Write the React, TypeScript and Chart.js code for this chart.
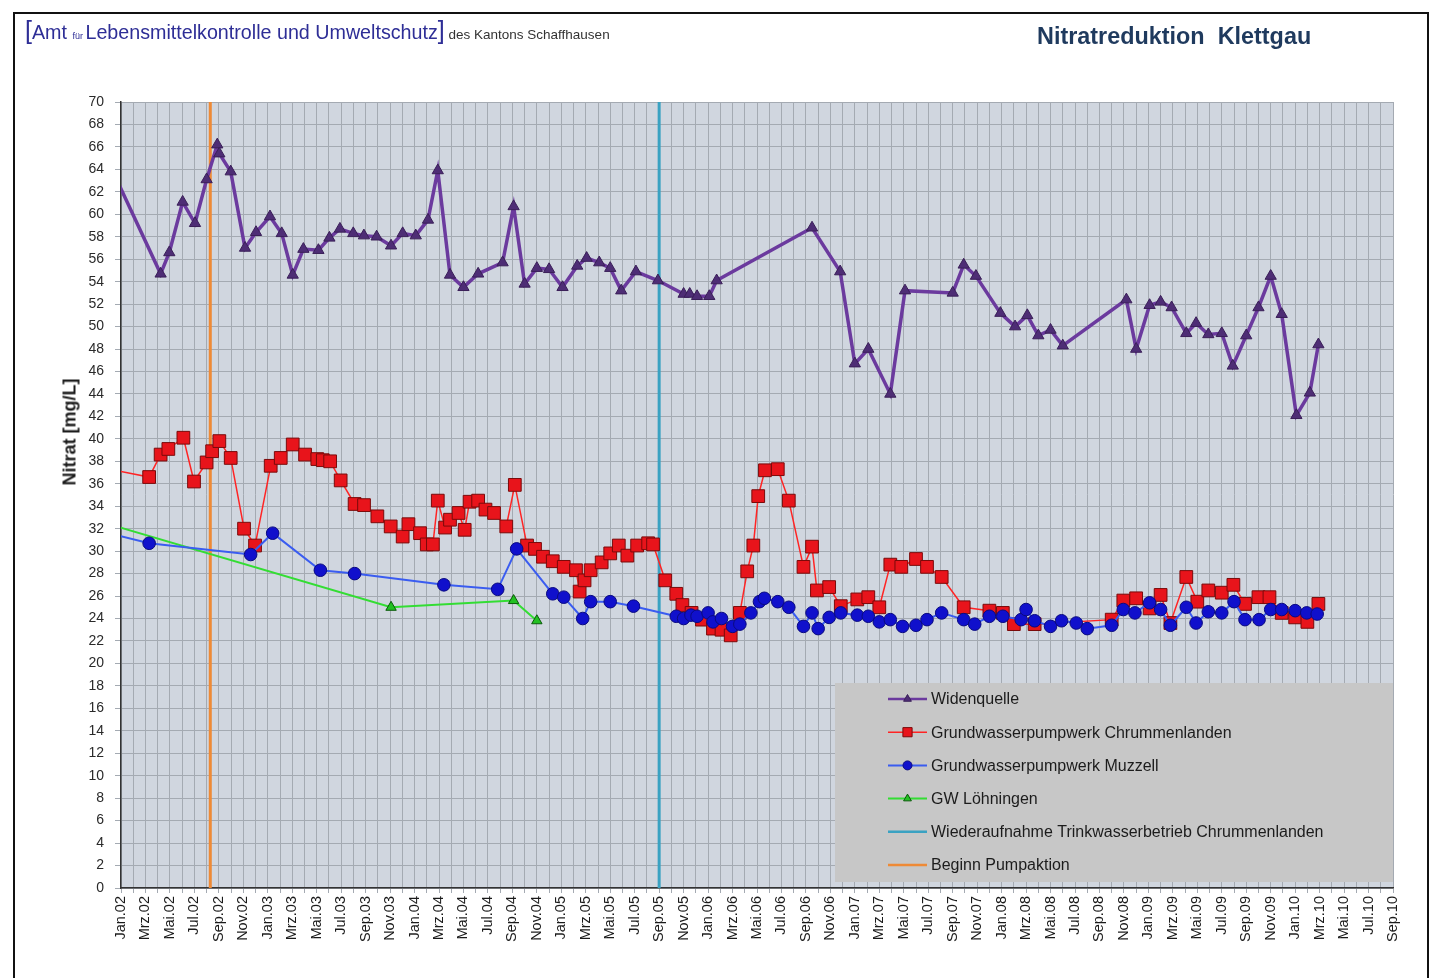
import React, { useEffect, useRef } from 'react';
import { Chart, registerables } from 'chart.js';

Chart.register(...registerables);

// x values are months since Jan 2002 (0 = Jan.02)
const xTickLabels = [
  'Jan.02', 'Mrz.02', 'Mai.02', 'Jul.02', 'Sep.02', 'Nov.02',
  'Jan.03', 'Mrz.03', 'Mai.03', 'Jul.03', 'Sep.03', 'Nov.03',
  'Jan.04', 'Mrz.04', 'Mai.04', 'Jul.04', 'Sep.04', 'Nov.04',
  'Jan.05', 'Mrz.05', 'Mai.05', 'Jul.05', 'Sep.05', 'Nov.05',
  'Jan.06', 'Mrz.06', 'Mai.06', 'Jul.06', 'Sep.06', 'Nov.06',
  'Jan.07', 'Mrz.07', 'Mai.07', 'Jul.07', 'Sep.07', 'Nov.07',
  'Jan.08', 'Mrz.08', 'Mai.08', 'Jul.08', 'Sep.08', 'Nov.08',
  'Jan.09', 'Mrz.09', 'Mai.09', 'Jul.09', 'Sep.09', 'Nov.09',
  'Jan.10', 'Mrz.10', 'Mai.10', 'Jul.10', 'Sep.10',
];

const widenX = [
  -1, 3.24, 3.95, 5.04, 6.05, 7.0, 7.87, 8.04, 8.97, 10.14, 11.04, 12.18, 13.14, 14.04,
  14.91, 16.14, 17.04, 17.9, 18.99, 19.86, 20.9, 22.08, 23.03, 24.1, 25.1, 25.9, 26.9,
  28.0, 29.2, 31.2, 32.1, 33.0, 34.0, 35.0, 36.1, 37.3, 38.07, 39.1, 40.0, 40.9, 42.1,
  43.9, 46.0, 46.5, 47.1, 48.1, 48.7, 56.5, 58.8, 60.0, 61.1, 62.9, 64.1, 68.0, 68.9,
  69.9, 71.9, 73.1, 74.1, 75.0, 76.0, 77.0, 82.2, 83.0, 84.1, 85.0, 85.9, 87.1, 87.9,
  88.9, 90.0, 90.9, 92.0, 93.0, 94.0, 94.9, 96.1, 97.2, 97.9,
];
const widenY = [
  64.6, 54.7, 56.6, 61.1, 59.2, 63.1, 66.2, 65.4, 63.8, 57.0, 58.4, 59.8, 58.3, 54.6,
  56.9, 56.8, 57.9, 58.7, 58.3, 58.1, 58.0, 57.2, 58.3, 58.1, 59.5, 63.9, 54.6,
  53.5, 54.7, 55.7, 60.7, 53.8, 55.2, 55.1, 53.5, 55.4, 56.1, 55.7, 55.2, 53.2, 54.9,
  54.1, 52.9, 52.9, 52.7, 52.7, 54.1, 58.8, 54.9, 46.7, 48.0, 44.0, 53.2, 53.0, 55.5,
  54.5, 51.2, 50.0, 51.0, 49.2, 49.7, 48.3, 52.4, 48.0, 51.9, 52.2, 51.7, 49.4, 50.3,
  49.3, 49.4, 46.5, 49.2, 51.7, 54.5, 51.1, 42.1, 44.1, 48.4,
];

const chrumX = [
  -1, 2.3, 3.24, 3.87, 5.1, 5.97, 7.0, 7.45, 8.04, 8.97, 10.06, 10.96, 12.24, 13.06,
  14.04, 15.05, 16.05, 16.5, 17.1, 17.96, 19.1, 19.87, 20.96, 22.05, 23.03, 23.5, 24.45,
  25.0, 25.5, 25.9, 26.5, 26.9, 27.6, 28.1, 28.5, 29.2, 29.8, 30.5, 31.5, 32.2, 33.2,
  33.85, 34.5, 35.3, 36.2, 37.2, 37.5, 37.9, 38.4, 39.3, 40.0, 40.7, 41.4, 42.2, 43.1,
  43.5, 44.5, 45.4, 45.9, 46.65, 47.5, 48.4, 49.1, 49.85, 50.6, 51.2, 51.7, 52.1, 52.65,
  53.7, 54.6, 55.8, 56.5, 56.9, 57.9, 58.85, 60.2, 61.1, 62.0, 62.9, 63.8, 65.0, 65.9,
  67.1, 68.9, 71.0, 72.1, 73.0, 74.7, 81.0, 81.95, 83.0, 84.1, 85.0, 85.8, 87.1, 88.0,
  88.9, 90.0, 90.95, 91.9, 93.0, 93.9, 94.9, 96.0, 97.0, 97.9,
];
const chrumY = [
  37.3, 36.6, 38.6, 39.1, 40.1, 36.2, 37.9, 38.9, 39.8, 38.3, 32.0, 30.5, 37.6, 38.3,
  39.5, 38.6, 38.2, 38.1, 38.0, 36.3, 34.2, 34.1, 33.1, 32.2, 31.3, 32.4, 31.6,
  30.6, 30.6, 34.5, 32.1, 32.8, 33.4, 31.9, 34.4, 34.5, 33.7, 33.4, 32.2, 35.9, 30.5,
  30.2, 29.5, 29.1, 28.6, 28.3, 26.4, 27.4, 28.3, 29.0, 29.8, 30.5, 29.6, 30.5, 30.7,
  30.6, 27.4, 26.2, 25.2, 24.5, 23.9, 23.1, 23.0, 22.5, 24.5, 28.2, 30.5, 34.9, 37.2,
  37.3, 34.5, 28.6, 30.4, 26.5, 26.8, 25.1, 25.7, 25.9, 25.0, 28.8, 28.6, 29.3, 28.6,
  27.7, 25.0, 24.7, 24.5, 23.5, 23.5, 23.9, 25.6, 25.8, 24.9, 26.1, 23.6, 27.7, 25.5,
  26.5, 26.3, 27.0, 25.3, 25.9, 25.9, 24.5, 24.1, 23.7, 25.3,
];

const muzX = [
  -1, 2.3, 10.6, 12.4, 16.3, 19.1, 26.4, 30.8, 32.35, 35.3, 36.2, 37.75, 38.4, 40.0,
  41.9, 45.4, 46.0, 46.6, 47.1, 48.0, 48.4, 49.1, 50.0, 50.6, 51.5, 52.2, 52.6, 53.7,
  54.6, 55.8, 56.5, 57.0, 57.9, 58.85, 60.2, 61.1, 62.0, 62.9, 63.9, 65.0, 65.9, 67.1,
  68.9, 69.8, 71.0, 72.1, 73.6, 74.0, 74.7, 76.0, 76.9, 78.1, 79.0, 81.0, 81.95, 82.9,
  84.1, 85.0, 85.8, 87.1, 87.9, 88.9, 90.0, 91.0, 91.9, 93.05, 94.0, 94.9, 96.0, 96.95,
  97.8,
];
const muzY = [
  31.6, 30.7, 29.7, 31.6, 28.3, 28.0, 27.0, 26.6, 30.2, 26.2, 25.9, 24.0, 25.5, 25.5,
  25.1, 24.2, 24.0, 24.3, 24.2, 24.5, 23.7, 24.0, 23.3, 23.5, 24.5, 25.5, 25.8, 25.5,
  25.0, 23.3, 24.5, 23.1, 24.1, 24.5, 24.3, 24.2, 23.7, 23.9, 23.3, 23.4, 23.9, 24.5,
  23.9, 23.5, 24.2, 24.2, 23.9, 24.8, 23.8, 23.3, 23.8, 23.6, 23.1, 23.4, 24.8, 24.5,
  25.4, 24.8, 23.4, 25.0, 23.6, 24.6, 24.5, 25.5, 23.9, 23.9, 24.8, 24.8, 24.7, 24.5,
  24.4,
];

const loehX = [-1, 22.08, 32.1, 34.0];
const loehY = [32.4, 25.0, 25.6, 23.8];

const wiederX = [44, 44];
const wiederY = [0, 70];
const pumpX = [7.3, 7.3];
const pumpY = [0, 70];

const seriesNames = [
  'Widenquelle',
  'Grundwasserpumpwerk Chrummenlanden',
  'Grundwasserpumpwerk Muzzell',
  'GW Löhningen',
  'Wiederaufnahme Trinkwasserbetrieb Chrummenlanden',
  'Beginn Pumpaktion',
];

const FONT = '"Liberation Sans", Arial, Helvetica, sans-serif';
const PLOT_BG = '#d0d6df';
const GRID = '#a4aab2';

const pts = (xs: number[], ys: number[]) => xs.map((x, i) => ({ x, y: ys[i] }));

const bgPlugin = {
  id: 'plotBg',
  beforeDraw(chart: any) {
    const { ctx, chartArea: a } = chart;
    ctx.save();
    ctx.fillStyle = PLOT_BG;
    ctx.fillRect(a.left, a.top, a.right - a.left, a.bottom - a.top);
    ctx.restore();
  },
};

function drawMarker(ctx: CanvasRenderingContext2D, style: string, x: number, y: number, r: number) {
  ctx.beginPath();
  if (style === 'triangle') {
    let rad = 0;
    ctx.moveTo(x + Math.sin(rad) * r, y - Math.cos(rad) * r);
    rad += (2 * Math.PI) / 3;
    ctx.lineTo(x + Math.sin(rad) * r, y - Math.cos(rad) * r);
    rad += (2 * Math.PI) / 3;
    ctx.lineTo(x + Math.sin(rad) * r, y - Math.cos(rad) * r);
    ctx.closePath();
  } else if (style === 'rect') {
    const s = r * Math.SQRT1_2;
    ctx.rect(x - s, y - s, 2 * s, 2 * s);
  } else {
    ctx.arc(x, y, r, 0, Math.PI * 2);
  }
  ctx.fill();
  ctx.stroke();
}

const legendPlugin = {
  id: 'boxLegend',
  afterDraw(chart: any) {
    const { ctx, chartArea: a } = chart;
    const w = 558;
    const h = 199;
    const x0 = a.right - w;
    const y0 = a.bottom - 6 - h;
    ctx.save();
    ctx.fillStyle = '#c7c7c7';
    ctx.fillRect(x0, y0, w, h);
    chart.data.datasets.forEach((ds: any, i: number) => {
      const cy = y0 + 16 + i * 33.2;
      const lx0 = x0 + 53;
      const lx1 = x0 + 92;
      ctx.strokeStyle = ds.borderColor;
      ctx.lineWidth = Math.min(ds.borderWidth, 2.5);
      ctx.beginPath();
      ctx.moveTo(lx0, cy);
      ctx.lineTo(lx1, cy);
      ctx.stroke();
      if (ds.pointRadius > 0) {
        ctx.fillStyle = ds.pointBackgroundColor;
        ctx.strokeStyle = ds.pointBorderColor;
        ctx.lineWidth = 1;
        drawMarker(ctx, ds.pointStyle, (lx0 + lx1) / 2, cy, ds.pointStyle === 'rect' ? 6.5 : 4.5);
      }
      ctx.fillStyle = '#1c1c1c';
      ctx.font = `16px ${FONT}`;
      ctx.textBaseline = 'middle';
      ctx.textAlign = 'left';
      ctx.fillText(ds.label, x0 + 96, cy + 1);
    });
    ctx.restore();
  },
};

export default function App() {
  const ref = useRef<HTMLCanvasElement | null>(null);

  useEffect(() => {
    if (!ref.current) return;
    const chart = new Chart(ref.current, {
      type: 'line',
      data: {
        datasets: [
          {
            label: seriesNames[0],
            data: pts(widenX, widenY),
            borderColor: '#6b3a9e',
            borderWidth: 3.5,
            pointStyle: 'triangle',
            pointRadius: 6.5,
            pointBackgroundColor: '#4e2d75',
            pointBorderColor: '#3a1f58',
            pointBorderWidth: 1,
            order: 0,
          },
          {
            label: seriesNames[1],
            data: pts(chrumX, chrumY),
            borderColor: '#ff2424',
            borderWidth: 1.5,
            pointStyle: 'rect',
            pointRadius: 9,
            pointBackgroundColor: '#e8141b',
            pointBorderColor: '#7a0a0a',
            pointBorderWidth: 1,
            order: 2,
          },
          {
            label: seriesNames[2],
            data: pts(muzX, muzY),
            borderColor: '#3a5cf0',
            borderWidth: 2,
            pointStyle: 'circle',
            pointRadius: 6.3,
            pointBackgroundColor: '#1010cc',
            pointBorderColor: '#0a0a80',
            pointBorderWidth: 1,
            order: 1,
          },
          {
            label: seriesNames[3],
            data: pts(loehX, loehY),
            borderColor: '#33dd33',
            borderWidth: 2,
            pointStyle: 'triangle',
            pointRadius: 6,
            pointBackgroundColor: '#22c022',
            pointBorderColor: '#0a5a0a',
            pointBorderWidth: 1,
            order: 1,
          },
          {
            label: seriesNames[4],
            data: pts(wiederX, wiederY),
            borderColor: '#3aa2c2',
            borderWidth: 3,
            pointRadius: 0,
            order: 10,
          },
          {
            label: seriesNames[5],
            data: pts(pumpX, pumpY),
            borderColor: '#ee8a36',
            borderWidth: 3,
            pointRadius: 0,
            order: 10,
          },
        ],
      },
      options: {
        responsive: false,
        animation: false,
        events: [],
        layout: { padding: { left: 0, top: 102, right: 38, bottom: 0 } },
        plugins: {
          legend: { display: false },
          tooltip: { enabled: false },
          title: { display: false },
        },
        elements: { line: { tension: 0 } },
        scales: {
          x: {
            type: 'linear',
            min: 0,
            max: 104,
            afterFit: (s: any) => {
              s.height = 90;
            },
            ticks: {
              stepSize: 1,
              autoSkip: false,
              maxRotation: 90,
              minRotation: 90,
              padding: 3,
              color: '#1a1a1a',
              font: { family: FONT, size: 14.5 },
              callback: (v: any) => {
                const n = Math.round(Number(v));
                return n % 2 === 0 ? xTickLabels[n / 2] ?? '' : '';
              },
            },
            grid: { color: GRID, lineWidth: 1, tickLength: 5, drawTicks: true },
            border: { color: '#333', width: 1.5 },
          },
          y: {
            type: 'linear',
            min: 0,
            max: 70,
            afterFit: (s: any) => {
              s.width = 121;
            },
            ticks: {
              stepSize: 2,
              padding: 11,
              color: '#2a2a2a',
              font: { family: FONT, size: 14 },
            },
            grid: { color: GRID, lineWidth: 1, tickLength: 6 },
            border: { color: '#333', width: 1.5 },
          },
        },
      },
      plugins: [bgPlugin, legendPlugin],
    } as any);
    return () => chart.destroy();
  }, []);

  return (
    <div
      style={{
        position: 'fixed',
        left: 0,
        top: 0,
        width: 1431,
        height: 978,
        background: '#fff',
        overflow: 'hidden',
        fontFamily: FONT,
      }}
    >
      <div
        style={{
          position: 'absolute',
          left: 13,
          top: 12,
          width: 1416,
          height: 1000,
          border: '2px solid #111',
          boxSizing: 'border-box',
        }}
      />
      <canvas ref={ref} width={1431} height={978} style={{ position: 'absolute', left: 0, top: 0 }} />
      <div
        style={{
          position: 'absolute',
          left: 25,
          top: 15,
          whiteSpace: 'nowrap',
          color: '#2e2e96',
          lineHeight: '30px',
        }}
      >
        <span style={{ fontSize: 25 }}>[</span>
        <span style={{ fontSize: 19.7 }}>Amt </span>
        <span style={{ fontSize: 9 }}>für </span>
        <span style={{ fontSize: 19.7 }}>Lebensmittelkontrolle und Umweltschutz</span>
        <span style={{ fontSize: 25 }}>]</span>
        <span style={{ fontSize: 13.5, color: '#333' }}> des Kantons Schaffhausen</span>
      </div>
      <div
        style={{
          position: 'absolute',
          left: 1037,
          top: 22,
          whiteSpace: 'pre',
          fontSize: 23.4,
          fontWeight: 'bold',
          color: '#1f3a5e',
          lineHeight: '28px',
        }}
      >
        {'Nitratreduktion  Klettgau'}
      </div>
      <div style={{ position: 'absolute', left: 70, top: 432, width: 0, height: 0 }}>
        <div
          style={{
            position: 'absolute',
            left: 0,
            top: 0,
            transform: 'translate(-50%, -50%) rotate(-90deg)',
            whiteSpace: 'nowrap',
            fontSize: 18,
            fontWeight: 'bold',
            color: '#1a1a1a',
          }}
        >
          Nitrat [mg/L]
        </div>
      </div>
    </div>
  );
}
